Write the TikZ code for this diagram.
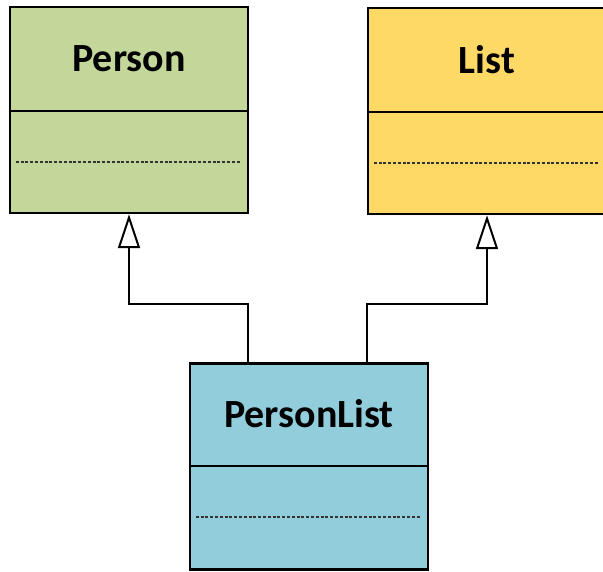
\documentclass[tikz,border=0pt]{standalone}
\usepackage{fontspec}
\setmainfont{Carlito}
\usetikzlibrary{arrows.meta}
\definecolor{personGreen}{HTML}{C4D79B}
\definecolor{listYellow}{HTML}{FFD966}
\definecolor{plistBlue}{HTML}{92CDDC}

\begin{document}
\begin{tikzpicture}[x=1pt, y=-1pt,
    classbox/.style={draw, line width=2.5pt, minimum width=238pt, minimum height=206pt, inner sep=0pt},
    classname/.style={font=\fontsize{40}{42}\selectfont\bfseries},
    divider/.style={line width=2.2pt},
    attrline/.style={line width=2.2pt, dash pattern=on 3pt off 1.8pt, black!80},
    inherit/.style={line width=2pt, -{Triangle[open, length=34pt, width=22pt, line width=2pt]}}]
            \useasboundingbox (0,0) rectangle (603,572);

            % classes
            \node[classbox, fill=personGreen] (person) at (129,110) {};
            \node[classbox, fill=listYellow] (list) at (487,111) {};
            \node[classbox, fill=plistBlue] (plist) at (309,466.5) {};

            \node[classname] (personname) at ([yshift=-53pt]person.north) {Person};
            \node[classname] (listname) at ([yshift=-53pt]list.north) {List};
            \node[classname] (plistname) at ([yshift=-51pt]plist.north) {PersonList};

            \draw[divider] ([yshift=-105pt]person.north west) -- ([yshift=-105pt]person.north east);
            \draw[divider] ([yshift=-105pt]list.north west) -- ([yshift=-105pt]list.north east);
            \draw[divider] ([yshift=-104pt]plist.north west) -- ([yshift=-104pt]plist.north east);

            \draw[attrline] ([xshift=7pt, yshift=-156pt]person.north west) -- ([xshift=-8pt, yshift=-156pt]person.north east);
            \draw[attrline] ([xshift=7pt, yshift=-156pt]list.north west) -- ([xshift=-8pt, yshift=-156pt]list.north east);
            \draw[attrline] ([xshift=7pt, yshift=-155pt]plist.north west) -- ([xshift=-8pt, yshift=-155pt]plist.north east);

            % inheritance
            \coordinate (fromleft) at ([xshift=59pt]plist.north west);
            \coordinate (fromright) at ([xshift=178pt]plist.north west);
            \draw[inherit] (fromleft) -- ++(0,-58) -| (person.south);
            \draw[inherit] (fromright) -- ++(0,-58) -| (list.south);
        \end{tikzpicture}
\end{document}
